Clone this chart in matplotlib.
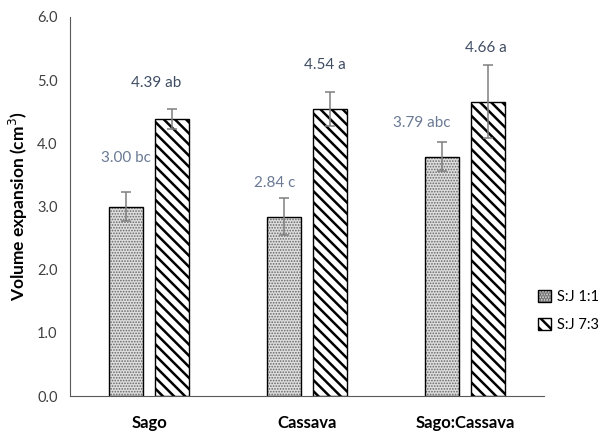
import matplotlib.pyplot as plt
import numpy as np

plt.rcParams['font.family'] = ['Lato', 'DejaVu Sans']
plt.rcParams['hatch.linewidth'] = 1.8

categories = ['Sago', 'Cassava', 'Sago:Cassava']
series_names = ['S:J 1:1', 'S:J 7:3']
means_11 = [3.00, 2.84, 3.79]
means_73 = [4.39, 4.54, 4.66]
err_11 = [0.23, 0.29, 0.23]
err_73 = [0.16, 0.27, 0.58]
letters_11 = ['bc', 'c', 'abc']
letters_73 = ['ab', 'a', 'a']

fig = plt.figure(figsize=(6.05, 4.32), dpi=100)
ax = fig.add_axes([70 / 605, 36 / 432, 474 / 605, 379 / 432])

x = np.arange(len(categories))
w = 0.22
off = 0.145

b1 = ax.bar(x - off, means_11, w, color='#dedede', edgecolor='black',
            linewidth=1, hatch='......', label=series_names[0])
b2 = ax.bar(x + off, means_73, w, color='white', edgecolor='black',
            linewidth=1, hatch='\\\\\\', label=series_names[1])
for b in b1:
    b._hatch_color = (0.4, 0.4, 0.4, 1)
    try:
        b.set_hatch_linewidth(0.8)
    except AttributeError:
        pass
ax.errorbar(x - off, means_11, yerr=err_11, fmt='none', ecolor='#7f7f7f',
            elinewidth=1.1, capsize=3.5, capthick=1.1)
ax.errorbar(x + off, means_73, yerr=err_73, fmt='none', ecolor='#7f7f7f',
            elinewidth=1.1, capsize=3.5, capthick=1.1)

# label heights / x shifts (layout only)
lab_y_11 = [3.77, 3.37, 4.32]
lab_y_73 = [4.95, 5.24, 5.51]
lab_dx_11 = [0.0, -0.06, -0.13]
lab_dx_73 = [-0.1, -0.03, -0.01]
for i in range(len(categories)):
    ax.text(x[i] - off + lab_dx_11[i], lab_y_11[i],
            f'{means_11[i]:.2f} {letters_11[i]}', ha='center', va='center',
            fontsize=11, color='#6a7a94')
    ax.text(x[i] + off + lab_dx_73[i], lab_y_73[i],
            f'{means_73[i]:.2f} {letters_73[i]}', ha='center', va='center',
            fontsize=11, color='#3f4d63')

ax.set_xlim(-0.5, 2.5)
ax.set_ylim(0, 6)
ax.set_yticks(np.arange(0, 6.1, 1.0))
ax.set_yticklabels([f'{v:.1f}' for v in np.arange(0, 6.1, 1.0)], fontsize=10.5,
                   color='#404040')
ax.set_xticks(x)
ax.set_xticklabels(categories, fontsize=12, fontweight='bold', color='black')
ax.tick_params(axis='both', length=0, pad=9)
ax.tick_params(axis='x', pad=14)
ax.set_ylabel('Volume expansion (cm$^3$)', fontsize=12.5, fontweight='bold',
              labelpad=5)
for s in ['top', 'right']:
    ax.spines[s].set_visible(False)
for s in ['left', 'bottom']:
    ax.spines[s].set_color('#595959')

leg = fig.legend(handles=[b1, b2], labels=series_names, loc='center left',
                 bbox_to_anchor=(525 / 605, 1 - 311 / 432), frameon=False,
                 fontsize=10.5, handlelength=0.9, handleheight=0.9,
                 handletextpad=0.4, labelspacing=0.9)

fig.savefig('out.png', dpi=100)
